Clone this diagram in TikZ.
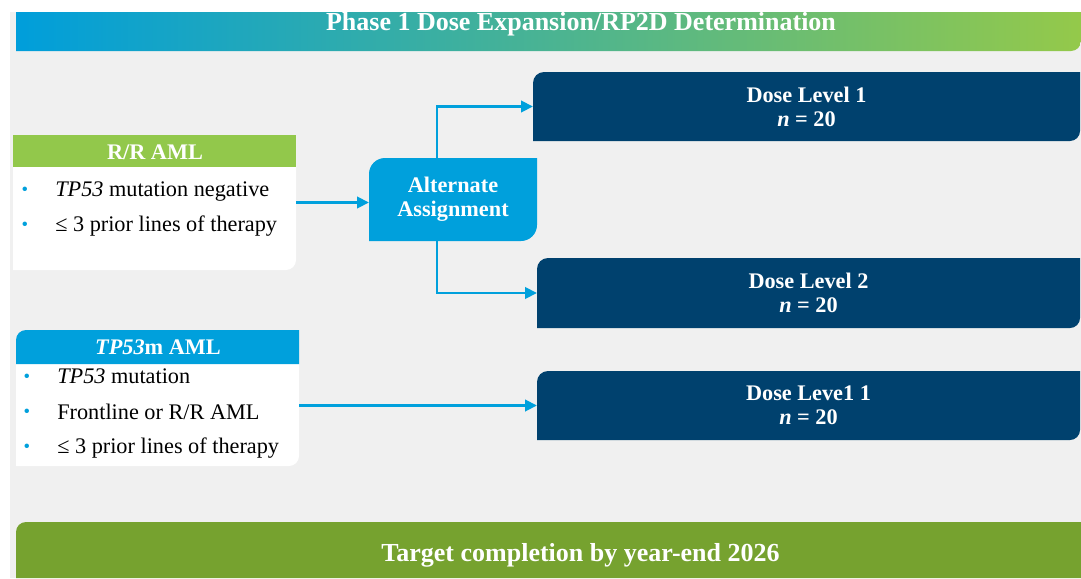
\documentclass[tikz,border=0pt]{standalone}
\usepackage{fontspec}
\setmainfont{Liberation Serif}
\usetikzlibrary{arrows.meta}
\definecolor{bgg}{HTML}{F0F0F0}
\definecolor{cblue}{HTML}{00A0DC}
\definecolor{tleft}{HTML}{009EDB}
\definecolor{tright}{HTML}{94C94A}
\definecolor{hgreen}{HTML}{92C84B}
\definecolor{navy}{HTML}{00416E}
\definecolor{bgreen}{HTML}{76A22F}
% #1 style, #2 x1, #3 y1, #4 x2, #5 y2, #6 top-left radius, #7 bottom-right radius
\newcommand\rbox[7]{%
  \path[#1] (#2,#5) -- (#2,{#3+#6}) .. controls (#2,{#3+0.448*#6}) and ({#2+0.448*#6},#3) .. ({#2+#6},#3)
    -- (#4,#3) -- (#4,{#5-#7}) .. controls (#4,{#5-0.448*#7}) and ({#4-0.448*#7},#5) .. ({#4-#7},#5) -- cycle;}
\newcommand\bodyfont{\fontsize{16.7}{18}\selectfont}
\newcommand\bigfont{\fontsize{19.5}{22}\selectfont}
\begin{document}
\begin{tikzpicture}[x=0.75pt,y=-0.75pt,
  anchorbox/.style={draw=none, inner sep=0pt, outer sep=0pt},
  whitetext/.style={text=white, font=\bodyfont\bfseries, align=center},
  item/.style={anchor=base west, font=\bodyfont, inner sep=0pt},
  bul/.style={anchor=base, font=\fontsize{14}{14}\selectfont, text=cblue, inner sep=0pt},
  arr/.style={draw=cblue, line width=2.2pt, -{Triangle[length=9pt,width=8.5pt]}}]
\useasboundingbox (0,0) rectangle (1081,578);
\fill[white] (0,0) rectangle (1081,578);
\fill[bgg] (10,12) rectangle (1081,578);

% title bar
\rbox{shade, left color=tleft, right color=tright}{16}{12}{1081}{51}{0}{10}
\node[anchor=base, text=white, font=\bigfont\bfseries, inner sep=0pt] (title) at (581,31) {Phase 1 Dose Expansion/RP2D Determination};

% R/R AML box
\rbox{fill=white}{13}{135}{296}{270}{0}{10}
\fill[hgreen] (13,135) rectangle (296,167);
\node[anchorbox, minimum width=212.25pt, minimum height=101.25pt] (rr) at (154.5,202.5) {};
\node[anchor=base, whitetext, inner sep=0pt] (rrh) at (155,159) {R/R AML};
\node[bul] (rb1) at (25,195) {•};
\node[item] (ri1) at (55,196) {\textit{TP53} mutation negative};
\node[bul] (rb2) at (25,230) {•};
\node[item] (ri2) at (55,231) {≤ 3 prior lines of therapy};

% TP53m AML box
\rbox{fill=white}{16}{364}{299}{466}{0}{10}
\rbox{fill=cblue}{16}{330}{299}{364}{10}{0}
\node[anchorbox, minimum width=212.25pt, minimum height=102pt] (tp) at (157.5,398) {};
\node[anchor=base, whitetext, inner sep=0pt] (tph) at (158,354) {\textit{TP53}m AML};
\node[bul] (tb1) at (27,382) {•};
\node[item] (ti1) at (57,383) {\textit{TP53} mutation};
\node[bul] (tb2) at (27,417) {•};
\node[item] (ti2) at (57,419) {Frontline or R/R AML};
\node[bul] (tb3) at (27,452) {•};
\node[item] (ti3) at (57,453) {≤ 3 prior lines of therapy};

% alternate assignment
\rbox{fill=cblue}{369}{158}{537}{241}{16}{16}
\node[anchorbox, whitetext, minimum width=126pt, minimum height=62.25pt] (alt) at (453,199.5) {Alternate\\Assignment};

% dose boxes
\rbox{fill=navy}{533}{72}{1080}{141}{11}{10}
\node[anchorbox, whitetext, minimum width=410.25pt, minimum height=51.75pt] (d1) at (806.5,106.5) {Dose Level 1\\\textit{n} = 20};
\rbox{fill=navy}{537}{258}{1080}{328}{11}{10}
\node[anchorbox, whitetext, minimum width=407.25pt, minimum height=52.5pt] (d2) at (808.5,293) {Dose Level 2\\\textit{n} = 20};
\rbox{fill=navy}{537}{371}{1080}{440}{11}{10}
\node[anchorbox, whitetext, minimum width=407.25pt, minimum height=51.75pt] (d3) at (808.5,405.5) {Dose Leve1 1\\\textit{n} = 20};

% bottom bar
\rbox{fill=bgreen}{16}{522}{1081}{578}{10}{0}
\node[anchor=base, text=white, font=\bigfont\bfseries, inner sep=0pt] (target) at (580.5,561) {Target completion by year-end 2026};

% connectors
\draw[arr] (rr.east) -- (rr.east -| alt.west);
\draw[arr] ([xshift=-12pt]alt.north) |- (d1.west);
\draw[arr] ([xshift=-12pt]alt.south) |- (d2.west);
\draw[arr] (d3.west -| tp.east) -- (d3.west);
\end{tikzpicture}
\end{document}
